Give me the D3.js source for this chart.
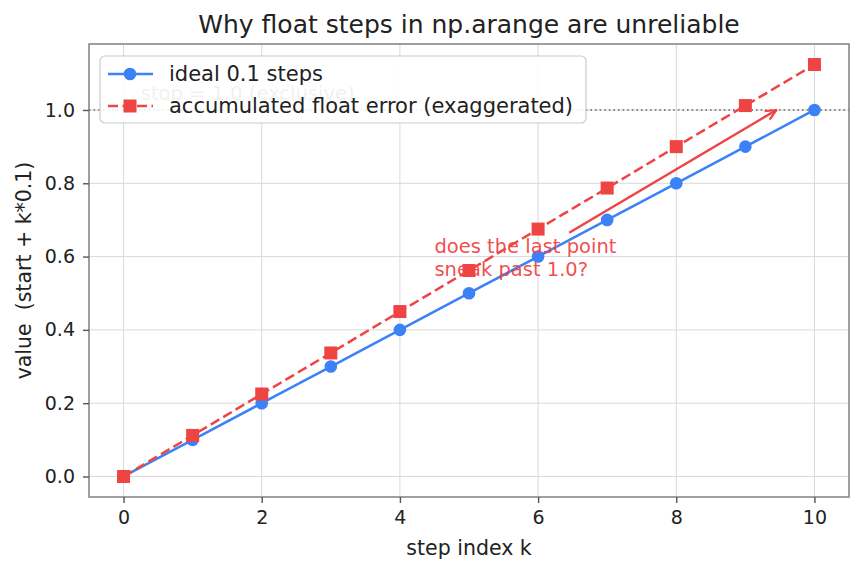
<!DOCTYPE html>
<html>
<head>
<meta charset="utf-8">
<script src="https://cdn.jsdelivr.net/npm/d3@7"></script>
<style>
  body { margin: 0; background: #fff; }
  text { font-family: "DejaVu Sans", sans-serif; }
</style>
</head>
<body>
<div class="chart"></div>
<script>
var steps = [0, 1, 2, 3, 4, 5, 6, 7, 8, 9, 10]
var ideal = [0, 0.1, 0.2, 0.3, 0.4, 0.5, 0.6, 0.7, 0.8, 0.9, 1.0]
var drifted = [0, 0.112, 0.225, 0.337, 0.45, 0.562, 0.675, 0.787, 0.9, 1.012, 1.124]
var xTicks = [0, 2, 4, 6, 8, 10]
var yTicks = [0, 0.2, 0.4, 0.6, 0.8, 1.0]
var stopValue = 1.0
var arrowFrom = [6.45, 0.665]
var arrowTo = [9.45, 1.0]

var blue = '#3b82f6', red = '#ef4444'
var W = 862, H = 573
var m = { left: 89, right: 13, top: 44, bottom: 76 }

var svg = d3.select('.chart')
  .append('svg')
    .attr('width', W)
    .attr('height', H)

var x = d3.scaleLinear().domain([-0.5, 10.5]).range([m.left, W - m.right])
var y = d3.scaleLinear().domain([-0.056, 1.18]).range([H - m.bottom, m.top])

// grid
svg.append('g').selectAll('line').data(xTicks).enter().append('line')
  .attr('x1', d => x(d)).attr('x2', d => x(d))
  .attr('y1', m.top).attr('y2', H - m.bottom)
  .attr('stroke', '#d9d9d9').attr('stroke-width', 1)
svg.append('g').selectAll('line').data(yTicks).enter().append('line')
  .attr('y1', d => y(d)).attr('y2', d => y(d))
  .attr('x1', m.left).attr('x2', W - m.right)
  .attr('stroke', '#d9d9d9').attr('stroke-width', 1)

// stop line
svg.append('line')
  .attr('x1', m.left).attr('x2', W - m.right)
  .attr('y1', y(stopValue)).attr('y2', y(stopValue))
  .attr('stroke', '#666').attr('stroke-width', 1.6)
  .attr('stroke-dasharray', '1.6,3')

svg.append('text')
  .attr('x', x(0.25)).attr('y', y(stopValue) - 10)
  .attr('font-size', 19.5).attr('fill', '#888')
  .text('stop = 1.0 (exclusive)')

// lines
var line = d3.line().x((d, i) => x(steps[i])).y(d => y(d))
svg.append('path').datum(ideal)
  .attr('d', line).attr('fill', 'none')
  .attr('stroke', blue).attr('stroke-width', 2.5)
svg.append('path').datum(drifted)
  .attr('d', line).attr('fill', 'none')
  .attr('stroke', red).attr('stroke-width', 2.5)
  .attr('stroke-dasharray', '10,4.5')

svg.append('g').selectAll('circle').data(ideal).enter().append('circle')
  .attr('cx', (d, i) => x(steps[i])).attr('cy', d => y(d))
  .attr('r', 6.3).attr('fill', blue)
svg.append('g').selectAll('rect').data(drifted).enter().append('rect')
  .attr('x', (d, i) => x(steps[i]) - 6.5).attr('y', d => y(d) - 6.5)
  .attr('width', 13).attr('height', 13).attr('fill', red)

// annotation
svg.append('defs').append('marker')
  .attr('id', 'head').attr('viewBox', '0 0 12 12')
  .attr('refX', 11).attr('refY', 6)
  .attr('markerWidth', 13).attr('markerHeight', 13)
  .attr('markerUnits', 'userSpaceOnUse')
  .attr('orient', 'auto')
  .append('path').attr('d', 'M1,1.5 L11,6 L1,10.5')
  .attr('fill', 'none').attr('stroke', red).attr('stroke-width', 2)

svg.append('line')
  .attr('x1', x(arrowFrom[0])).attr('y1', y(arrowFrom[1]))
  .attr('x2', x(arrowTo[0])).attr('y2', y(arrowTo[1]))
  .attr('stroke', red).attr('stroke-width', 2.5)
  .attr('marker-end', 'url(#head)')

var note = svg.append('text')
  .attr('font-size', 19.5).attr('fill', red).attr('fill-opacity', 0.95)
note.append('tspan').attr('x', x(4.5)).attr('y', 253).text('does the last point')
note.append('tspan').attr('x', x(4.5)).attr('y', 276).text('sneak past 1.0?')

// spines
svg.append('rect')
  .attr('x', m.left).attr('y', m.top)
  .attr('width', W - m.left - m.right).attr('height', H - m.top - m.bottom)
  .attr('fill', 'none').attr('stroke', '#888').attr('stroke-width', 1.6)

// axes
var xAxis = svg.append('g')
  .attr('transform', 'translate(0,' + (H - m.bottom) + ')')
  .call(d3.axisBottom(x).tickValues(xTicks).tickSize(6).tickPadding(8).tickFormat(d3.format('d')))
var yAxis = svg.append('g')
  .attr('transform', 'translate(' + m.left + ',0)')
  .call(d3.axisLeft(y).tickValues(yTicks).tickSize(6).tickPadding(8).tickFormat(d3.format('.1f')))
;[xAxis, yAxis].forEach(a => {
  a.select('.domain').remove()
  a.selectAll('.tick line').attr('stroke', '#555').attr('stroke-width', 1.4)
  a.selectAll('.tick text').attr('font-size', 19).attr('fill', '#222')
    .style('font-family', '"DejaVu Sans", sans-serif')
})

// labels
svg.append('text')
  .attr('x', (m.left + W - m.right) / 2).attr('y', 33)
  .attr('text-anchor', 'middle').attr('font-size', 25).attr('fill', '#222')
  .text('Why float steps in np.arange are unreliable')
svg.append('text')
  .attr('x', (m.left + W - m.right) / 2).attr('y', 555)
  .attr('text-anchor', 'middle').attr('font-size', 20.5).attr('fill', '#222')
  .text('step index k')
svg.append('text')
  .attr('transform', 'translate(31,' + ((m.top + H - m.bottom) / 2) + ') rotate(-90)')
  .attr('text-anchor', 'middle').attr('font-size', 20.5).attr('fill', '#222')
  .attr('xml:space', 'preserve').style('white-space', 'pre')
  .text('value  (start + k*0.1)')

// legend
var lg = svg.append('g').attr('transform', 'translate(100,56)')
lg.append('rect')
  .attr('width', 486).attr('height', 67).attr('rx', 5)
  .attr('fill', '#fff').attr('fill-opacity', 0.88)
  .attr('stroke', '#ccc').attr('stroke-width', 1.2)
var items = [
  { label: 'ideal 0.1 steps', color: blue, dash: null, shape: 'circle' },
  { label: 'accumulated float error (exaggerated)', color: red, dash: '10,4.5', shape: 'square' }
]
var row = lg.selectAll('g').data(items).enter().append('g')
  .attr('transform', (d, i) => 'translate(0,' + (18 + i * 32) + ')')
row.append('line')
  .attr('x1', 8).attr('x2', 53)
  .attr('stroke', d => d.color).attr('stroke-width', 2.5)
  .attr('stroke-dasharray', d => d.dash)
row.filter(d => d.shape === 'circle').append('circle')
  .attr('cx', 30).attr('r', 6.3).attr('fill', d => d.color)
row.filter(d => d.shape === 'square').append('rect')
  .attr('x', 23.5).attr('y', -6.5).attr('width', 13).attr('height', 13).attr('fill', d => d.color)
row.append('text')
  .attr('x', 69).attr('y', 7)
  .attr('font-size', 21).attr('fill', '#222')
  .text(d => d.label)
</script>
</body>
</html>
